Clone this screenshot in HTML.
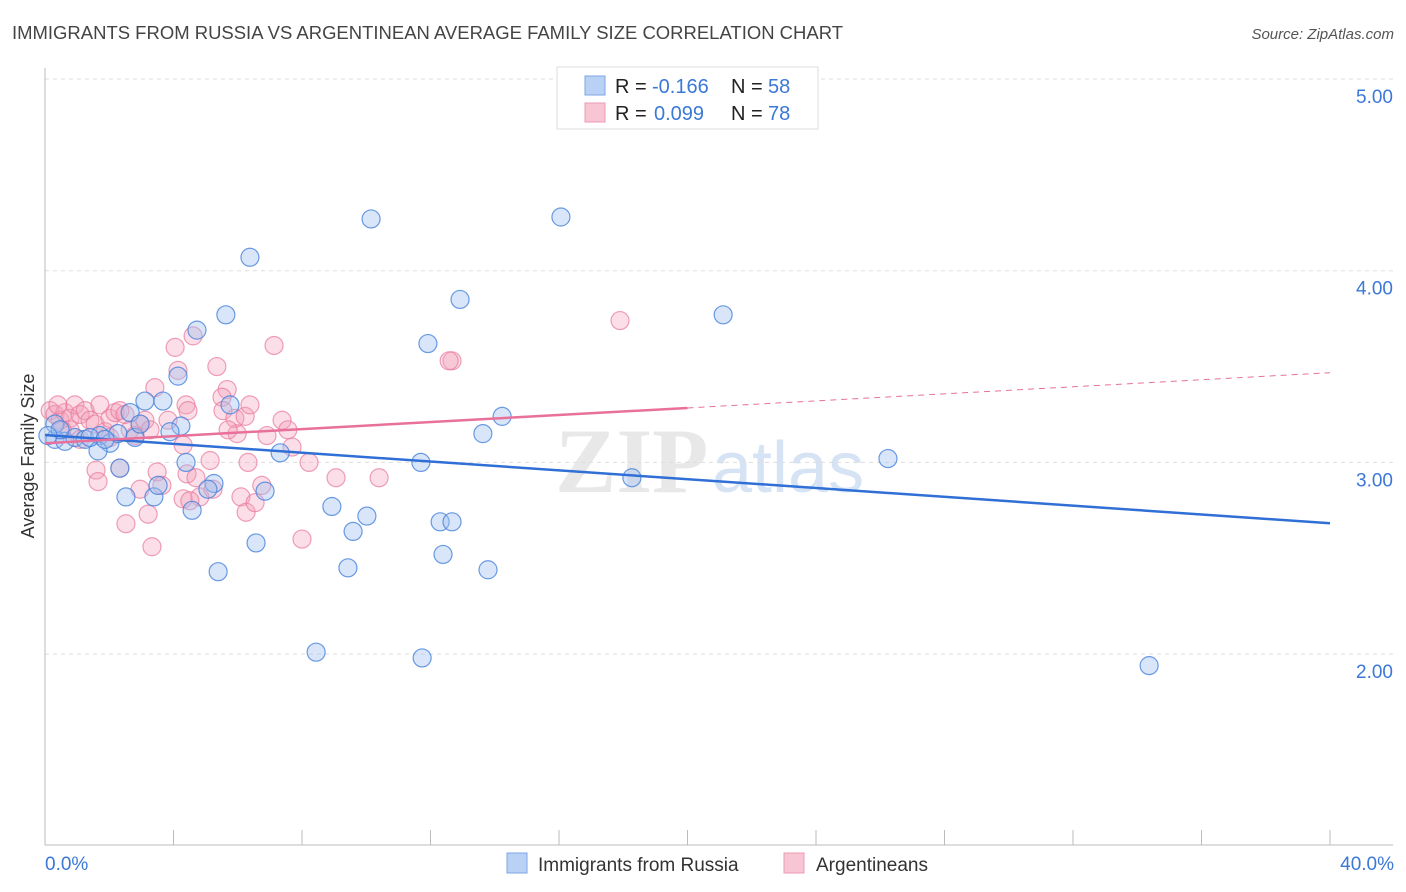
<!DOCTYPE html>
<html><head><meta charset="utf-8"><style>
body{margin:0;background:#fff;font-family:"Liberation Sans",sans-serif;}
svg{display:block}
</style></head><body>
<svg id="chart" width="1406" height="892" xmlns="http://www.w3.org/2000/svg">
<text x="12" y="39" font-size="18" fill="#444" textLength="831" lengthAdjust="spacingAndGlyphs">IMMIGRANTS FROM RUSSIA VS ARGENTINEAN AVERAGE FAMILY SIZE CORRELATION CHART</text>
<text x="1394" y="39" font-size="15" fill="#555" font-style="italic" text-anchor="end">Source: ZipAtlas.com</text>
<text x="555" y="492" font-size="92" fill="#e8e8e8" font-weight="bold" font-family="Liberation Serif,serif">ZIP</text>
<text x="712" y="492" font-size="72" fill="#d6e3f5">atlas</text>
<g id="grid"></g>
<g id="axes"></g>
<g id="pts"></g>
<g id="trends"></g>
<text transform="translate(34,456) rotate(-90)" font-size="18" fill="#333" text-anchor="middle">Average Family Size</text>
<text x="45" y="870" font-size="19" fill="#3b78d8">0.0%</text>
<text x="1394" y="870" font-size="19" fill="#3b78d8" text-anchor="end">40.0%</text>
<g>
<rect x="557" y="67" width="261" height="62" fill="#fff" stroke="#ddd"/>
<rect x="585" y="76" width="20" height="19" fill="#b9d1f4" stroke="#7da6e6"/>
<rect x="585" y="103" width="20" height="19" fill="#f8c5d4" stroke="#ec9ab3"/>
<text x="615" y="93" font-size="20" fill="#222">R = </text><text x="652" y="93" font-size="20" fill="#3b78d8">-0.166</text>
<text x="731" y="93" font-size="20" fill="#222">N = </text><text x="768" y="93" font-size="20" fill="#3b78d8">58</text>
<text x="615" y="120" font-size="20" fill="#222">R = </text><text x="654" y="120" font-size="20" fill="#3b78d8">0.099</text>
<text x="731" y="120" font-size="20" fill="#222">N = </text><text x="768" y="120" font-size="20" fill="#3b78d8">78</text>
</g>
<g>
<rect x="507" y="853" width="20" height="20" fill="#b9d1f4" stroke="#7da6e6"/>
<text x="538" y="871" font-size="19" fill="#333">Immigrants from Russia</text>
<rect x="784" y="853" width="20" height="20" fill="#f8c5d4" stroke="#ec9ab3"/>
<text x="816" y="871" font-size="19" fill="#333">Argentineans</text>
</g>
</svg>
<script>
const yTicks=[5,4,3,2];
const yTickLabels=["5.00","4.00","3.00","2.00"];
const xTicks=[0,4,8,12,16,20,24,28,32,36,40];
const russiaX=[0.31,0.62,0.31,0.93,1.25,1.71,2.02,1.65,2.27,2.80,2.65,3.11,3.67,4.14,4.73,5.63,6.38,10.15,16.06,12.92,11.92,21.11,14.23,13.63,11.70,18.27,26.24,34.37,4.23,3.89,4.39,5.26,5.07,6.85,7.32,8.93,10.02,9.59,12.30,12.67,12.39,13.79,9.43,8.44,11.74,5.39,6.57,4.58,3.39,2.52,2.33,3.52,5.76,2.96,0.47,1.40,1.87,0.09];
const russiaY=[3.12,3.11,3.20,3.13,3.12,3.14,3.10,3.06,3.15,3.13,3.26,3.32,3.32,3.45,3.69,3.77,4.07,4.27,4.28,3.85,3.62,3.77,3.24,3.15,3.00,2.92,3.02,1.94,3.19,3.16,3.00,2.89,2.86,2.85,3.05,2.77,2.72,2.64,2.69,2.69,2.52,2.44,2.45,2.01,1.98,2.43,2.58,2.75,2.82,2.82,2.97,2.88,3.30,3.20,3.17,3.13,3.12,3.14];
const argX=[0.16,0.31,0.47,0.62,0.78,0.93,1.09,1.25,1.40,1.56,1.71,1.87,2.02,2.18,2.33,2.49,2.65,2.96,3.11,3.27,3.42,4.05,4.14,4.61,4.39,4.45,5.35,5.67,5.51,5.54,5.98,5.91,6.23,6.38,5.70,6.32,6.91,7.13,7.38,7.56,7.69,8.22,9.06,10.40,12.67,12.58,17.90,1.59,1.65,2.33,2.52,2.96,3.21,3.33,3.49,3.64,4.30,4.42,4.30,4.82,4.70,5.14,5.23,6.10,6.26,6.54,6.75,8.00,0.78,1.09,0.40,2.80,3.83,4.51,0.53,2.02];
const argY=[3.27,3.25,3.22,3.26,3.23,3.30,3.25,3.27,3.22,3.20,3.30,3.16,3.23,3.26,3.27,3.25,3.17,3.20,3.22,3.17,3.39,3.60,3.48,3.66,3.30,3.27,3.50,3.38,3.34,3.27,3.15,3.23,3.24,3.30,3.17,3.00,3.14,3.61,3.22,3.17,3.08,3.00,2.92,2.92,3.53,3.53,3.74,2.96,2.90,2.97,2.68,2.86,2.73,2.56,2.95,2.88,2.81,2.94,3.09,2.82,2.92,3.01,2.86,2.82,2.74,2.79,2.88,2.60,3.17,3.12,3.30,3.14,3.22,2.80,3.17,3.13];
const NS="http://www.w3.org/2000/svg";
const X=v=>45+v/40*1285;
const Y=v=>79+(5-v)*191.7;
function mk(t,a,p){const e=document.createElementNS(NS,t);for(const k in a)e.setAttribute(k,a[k]);p.appendChild(e);return e;}
const grid=document.getElementById('grid'),axes=document.getElementById('axes');
yTicks.forEach((t,i)=>{
 const l=mk('line',{x1:45,x2:1393,y1:Y(t),y2:Y(t),stroke:'#ddd','stroke-dasharray':'4,4'},grid);
 
 
 const tx=mk('text',{x:1393,y:Y(t)+24,'font-size':19,fill:'#3b78d8','text-anchor':'end'},grid);
 tx.textContent=yTickLabels[i];
 
 
});
mk('line',{x1:45,x2:45,y1:68,y2:845,stroke:'#bbb'},axes);
mk('line',{x1:45,x2:1393,y1:845,y2:845,stroke:'#bbb'},axes);
xTicks.forEach(t=>{
 const l=mk('line',{x1:X(t),x2:X(t),y1:830,y2:845,stroke:'#bbb'},axes);
 
 
});
const pts=document.getElementById('pts');
function dots(xs,ys,fill,stroke,name){
 xs.forEach((x,i)=>{
  const c=mk('circle',{cx:X(x),cy:Y(ys[i]),r:9,fill:fill,stroke:stroke,'stroke-width':1.2},pts);
  
  
 });
}
dots(argX,argY,'rgba(244,160,185,0.35)','rgba(232,120,155,0.7)','argentinean-point');
dots(russiaX,russiaY,'rgba(160,192,240,0.4)','rgba(70,130,220,0.8)','russia-point');
function fit(xs,ys){const n=xs.length;let sx=0,sy=0,sxx=0,sxy=0;for(let i=0;i<n;i++){sx+=xs[i];sy+=ys[i];sxx+=xs[i]*xs[i];sxy+=xs[i]*ys[i];}const b=(n*sxy-sx*sy)/(n*sxx-sx*sx);return [ (sy-b*sx)/n,b];}
const tr=document.getElementById('trends');
const [ra,rb]=fit(russiaX,russiaY);
let l=mk('line',{x1:X(0),y1:Y(ra),x2:X(40),y2:Y(ra+rb*40),stroke:'#2f6fd6','stroke-width':2.5},tr);


const [pa,pb]=fit(argX,argY);
l=mk('line',{x1:X(0),y1:Y(pa),x2:X(20),y2:Y(pa+pb*20),stroke:'#e8709a','stroke-width':2.5},tr);


l=mk('line',{x1:X(20),y1:Y(pa+pb*20),x2:X(40),y2:Y(pa+pb*40),stroke:'#e8709a','stroke-width':1,'stroke-dasharray':'6,5'},tr);


</script>
</body></html>
